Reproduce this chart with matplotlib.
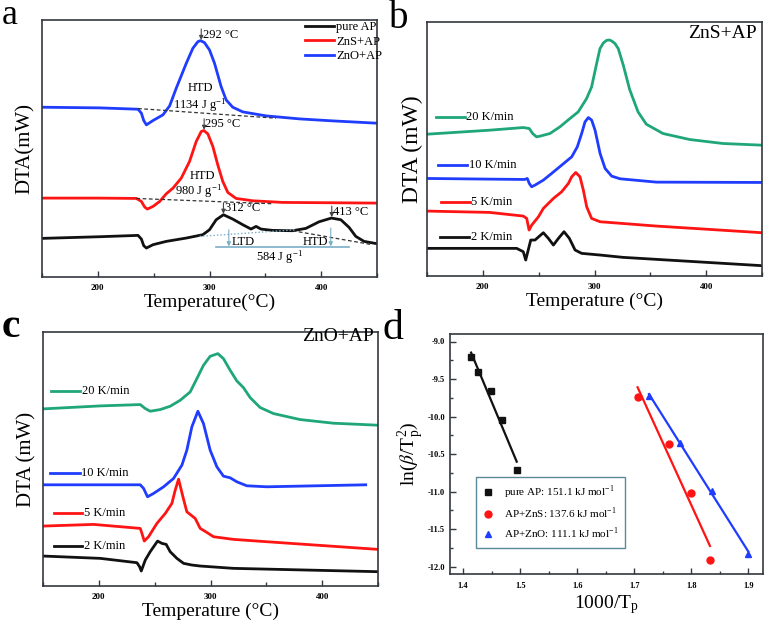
import numpy as np
import matplotlib
matplotlib.use('Agg')
import matplotlib.pyplot as plt
from matplotlib.ticker import MultipleLocator, FormatStrFormatter

plt.rcParams['font.family'] = ['Liberation Serif', 'DejaVu Serif']
plt.rcParams['mathtext.fontset'] = 'stix'

# ---------------- DATA ----------------
# Panel a (DTA, arbitrary units)
a_zno_T = [150, 201.8, 236.0, 239.0, 241.1, 243.5, 249.4, 258.3, 264.3, 270.2, 279.2, 285.1, 289.6, 292.0,
           295.5, 300.0, 304.5, 310.4, 314.9, 320.8, 329.8, 350.6, 380.4, 410.1, 450]
a_zno_y = [51.0, 50.8, 50.4, 49.2, 47.0, 45.7, 47.0, 48.7, 51.4, 56.7, 64.2, 68.7, 70.7, 71.0,
           70.4, 68.2, 64.2, 57.2, 53.2, 51.0, 49.6, 48.4, 47.5, 46.9, 46.2]
a_zns_T = [150, 201.8, 234.5, 239.0, 242.0, 244.3, 249.4, 255.4, 261.3, 267.3, 274.7, 282.1, 288.1, 292.6,
           294.9, 298.5, 303.0, 307.4, 311.9, 316.4, 323.8, 338.7, 365.5, 410.1, 450]
a_zns_y = [23.7, 23.7, 23.6, 22.7, 21.0, 20.4, 21.2, 22.7, 25.0, 26.7, 29.7, 34.7, 40.7, 43.7,
           44.0, 43.0, 39.2, 33.7, 28.7, 25.4, 23.6, 22.9, 22.4, 22.3, 22.2]
a_ap_T = [150, 201.8, 236.0, 239.0, 241.1, 243.5, 249.4, 261.3, 279.2, 294.0, 300.0, 306.0, 312.5, 320.8,
          329.8, 337.2, 341.7, 346.1, 356.5, 374.4, 386.3, 398.2, 409.2, 417.6, 425.0, 431.0, 438.4, 450]
a_ap_y = [11.6, 12.1, 12.5, 11.4, 9.4, 8.7, 9.7, 10.7, 11.7, 12.7, 14.2, 17.2, 18.7, 17.4,
          15.7, 14.4, 15.2, 14.4, 14.0, 13.9, 14.6, 16.6, 17.7, 17.2, 14.9, 12.2, 10.7, 10.0]
a_names = ['pure AP', 'ZnS+AP', 'ZnO+AP']
# integration baselines
a_zno_base_T, a_zno_base_y = [236.0, 359.5], [50.6, 47.7]
a_zns_base_T, a_zns_base_y = [234.5, 356.5], [23.6, 22.0]
a_htd_base_T, a_htd_base_y = [374.4, 445.8], [13.9, 9.7]
a_ltd_base_T, a_ltd_base_y = [291.1, 377.4], [12.2, 14.2]
a_sep_T, a_sep_y = [306.0, 425.0], [8.9, 8.9]
a_peak_T = [292.6, 295.2, 312.5, 409.5]
a_peak_lbl = ['292 °C', '295 °C', '312 °C', '413 °C']
a_enth = ['1134 J g$^{\\mathregular{-1}}$', '980 J g$^{\\mathregular{-1}}$', '584 J g$^{\\mathregular{-1}}$']

# Panel b (ZnS+AP)
b_rates = ['20 K/min', '10 K/min', '5 K/min', '2 K/min']
b20_T = [150, 206.1, 236.2, 241.6, 244.6, 248.1, 251.1, 260.1, 269.0, 278.0, 285.4, 292.9, 297.4, 301.9,
         304.9, 307.9, 310.9, 313.3, 315.4, 318.4, 321.3, 325.8, 331.5, 339.0, 346.4, 361.3, 385.2, 415.1, 450]
b20_y = [42.6, 43.8, 44.6, 44.3, 42.8, 41.8, 42.0, 42.8, 44.8, 47.3, 49.3, 53.3, 56.8, 63.8,
         68.3, 70.0, 70.8, 70.9, 70.6, 69.8, 68.3, 63.3, 56.0, 49.3, 45.6, 42.8, 41.0, 39.8, 39.3]
b10_T = [150, 206.1, 237.5, 239.8, 241.6, 243.7, 246.7, 254.2, 261.6, 270.6, 279.6, 284.6, 288.5, 291.5,
         294.5, 297.5, 300.5, 305.0, 309.5, 315.4, 322.9, 355.4, 450]
b10_y = [29.3, 29.1, 29.0, 29.3, 27.8, 26.8, 27.3, 28.8, 30.8, 33.3, 35.8, 38.8, 42.8, 46.3,
         47.6, 46.8, 43.8, 36.8, 32.3, 30.0, 29.2, 28.2, 28.1]
b5_T = [150, 206.1, 236.2, 239.3, 241.4, 243.8, 249.8, 254.2, 257.2, 263.2, 270.6, 276.6, 279.6, 283.2,
        287.0, 290.0, 293.0, 297.4, 304.9, 355.4, 450]
b5_y = [19.5, 19.1, 18.0, 17.3, 13.8, 15.3, 17.8, 20.3, 21.3, 23.3, 25.3, 27.8, 29.8, 31.1,
        29.8, 25.8, 20.8, 17.3, 16.3, 15.0, 13.0]
b2_T = [150, 215.1, 230.3, 236.2, 238.4, 242.9, 246.7, 254.2, 258.7, 263.2, 267.7, 272.7, 277.5, 282.6,
        288.5, 304.9, 325.5, 450]
b2_y = [8.3, 8.3, 8.3, 7.3, 4.8, 10.8, 10.8, 13.0, 11.3, 9.3, 11.3, 13.3, 11.3, 7.8,
        6.8, 6.3, 5.6, 3.1]

# Panel c (ZnO+AP)
c20_T = [150, 201.3, 237.1, 241.6, 246.0, 255.0, 263.9, 272.9, 281.8, 287.8, 293.7, 299.7, 306.6, 311.6,
         317.6, 323.6, 329.5, 335.5, 344.5, 356.4, 380.2, 410.1, 450]
c20_y = [53.2, 54.1, 54.5, 53.3, 52.5, 53.0, 54.0, 55.8, 58.3, 62.3, 66.3, 69.0, 69.8, 68.3,
         64.8, 61.6, 59.6, 56.6, 53.6, 51.8, 50.0, 48.9, 48.3]
c10_T = [150, 237.1, 240.1, 243.6, 249.0, 258.0, 266.9, 274.4, 278.8, 283.3, 288.7, 293.7, 299.7, 305.7,
         311.6, 317.6, 323.6, 332.5, 350.4, 439.0]
c10_y = [30.4, 30.4, 29.3, 26.8, 27.8, 29.8, 32.3, 36.3, 40.8, 47.8, 52.5, 48.8, 40.8, 35.8,
         33.0, 32.5, 31.3, 30.1, 29.8, 30.4]
c5_T = [150, 195.3, 237.1, 238.6, 240.7, 244.5, 252.0, 259.5, 265.4, 268.4, 271.4, 275.3, 278.8, 286.3,
        290.8, 296.7, 302.7, 320.6, 350.4, 450]
c5_y = [18.0, 18.5, 17.3, 15.8, 13.5, 14.8, 18.8, 21.8, 24.8, 28.8, 32.1, 26.8, 22.3, 20.3,
        17.3, 16.1, 14.8, 14.0, 13.3, 11.0]
c2_T = [150, 201.3, 234.1, 236.5, 238.0, 241.6, 246.0, 252.6, 256.5, 260.3, 263.9, 269.9, 275.9, 283.3,
        290.8, 320.6, 450]
c2_y = [9.0, 8.3, 7.0, 5.8, 4.5, 7.8, 10.3, 13.5, 12.8, 12.5, 10.3, 8.3, 6.8, 6.3,
        6.0, 5.3, 4.3]

# Panel d (Kissinger plot)
d_ap_x = [1.414, 1.426, 1.449, 1.468, 1.494]
d_ap_y = [-9.21, -9.41, -9.66, -10.04, -10.71]
d_zns_x = [1.706, 1.761, 1.800, 1.833]
d_zns_y = [-9.74, -10.37, -11.02, -11.91]
d_zno_x = [1.726, 1.780, 1.837, 1.900]
d_zno_y = [-9.72, -10.35, -10.99, -11.83]
d_labels = ['pure AP: 151.1 kJ mol$^{\\mathregular{-1}}$',
            'AP+ZnS: 137.6 kJ mol$^{\\mathregular{-1}}$',
            'AP+ZnO: 111.1 kJ mol$^{\\mathregular{-1}}$']

# ---------------- STYLE ----------------
BLACK = '#111111'
RED = '#ff1414'
BLUE = '#1f3cff'
GREEN = '#1fa67a'
LBLUE = '#7aaec8'
SPINE = '#333840'
LW = 2.0

fig = plt.figure(figsize=(7.65, 6.24), dpi=100)
W, H = 765, 624


def add_ax(l, t, r, b):
    return fig.add_axes([l / W, 1 - b / H, (r - l) / W, (b - t) / H])


def style_dta(ax, ytop):
    ax.set_xlim(150, 450)
    ax.set_ylim(0, ytop)
    ax.set_yticks([])
    ax.xaxis.set_major_locator(MultipleLocator(100))
    ax.xaxis.set_minor_locator(MultipleLocator(50))
    ax.tick_params(axis='x', which='both', direction='in', top=False, colors=SPINE,
                   labelsize=6.5, labelcolor='black', pad=5)
    ax.tick_params(axis='x', which='major', length=4.5, width=1)
    ax.tick_params(axis='x', which='minor', length=3, width=1)
    for lab in ax.get_xticklabels():
        lab.set_fontweight('bold')
    for s in ax.spines.values():
        s.set_color(SPINE)
        s.set_linewidth(1.2)


# ----- Panel a -----
axa = add_ax(42, 20, 377, 277)
la, = axa.plot(a_ap_T, a_ap_y, color=BLACK, lw=LW, label=a_names[0])
lb, = axa.plot(a_zns_T, a_zns_y, color=RED, lw=LW, label=a_names[1])
lc, = axa.plot(a_zno_T, a_zno_y, color=BLUE, lw=LW, label=a_names[2])
style_dta(axa, 77.2)
dash = dict(color='#333333', lw=0.9, ls=(0, (3, 2)))
axa.plot(a_zno_base_T, a_zno_base_y, **dash)
axa.plot(a_zns_base_T, a_zns_base_y, **dash)
axa.plot(a_htd_base_T, a_htd_base_y, **dash)
axa.plot(a_ltd_base_T, a_ltd_base_y, color=LBLUE, lw=1.0, ls=(0, (1, 1.5)))
axa.plot(a_sep_T, a_sep_y, color=LBLUE, lw=1.2)

curves = [(a_zno_T, a_zno_y), (a_zns_T, a_zns_y), (a_ap_T, a_ap_y), (a_ap_T, a_ap_y)]
for (T, y), pT, lbl in zip(curves, a_peak_T, a_peak_lbl):
    yc = np.interp(pT, T, y)
    axa.annotate('', xy=(pT, yc + 0.3), xytext=(pT, yc + 3.6),
                 arrowprops=dict(arrowstyle='-|>', lw=0.8, color='#444444', mutation_scale=6,
                                 shrinkA=0, shrinkB=0))
    axa.text(pT + 1.2, yc + 1.9, lbl, fontsize=9, va='center', ha='left')

axa.text(291.7, 56.7, 'HTD', fontsize=9, ha='center', va='center')
axa.text(291.1, 51.3, a_enth[0], fontsize=9, ha='center', va='center')
axa.text(293.5, 30.2, 'HTD', fontsize=9, ha='center', va='center')
axa.text(290.5, 25.6, a_enth[1], fontsize=9, ha='center', va='center')
axa.text(362.5, 5.6, a_enth[2], fontsize=9, ha='center', va='center')
for xT, y0 in [(317.3, 14.2), (408.6, 14.7)]:
    axa.annotate('', xy=(xT, 9.2), xytext=(xT, y0),
                 arrowprops=dict(arrowstyle='-|>', lw=0.8, color=LBLUE, mutation_scale=6,
                                 shrinkA=0, shrinkB=0))
axa.text(320.2, 10.4, 'LTD', fontsize=9, ha='left', va='center')
axa.text(406.5, 10.4, 'HTD', fontsize=9, ha='right', va='center')
axa.legend(handles=[la, lb, lc], loc='upper left', bbox_to_anchor=(0.785, 0.995), frameon=False,
           fontsize=9, handlelength=2.3, handletextpad=0.2, labelspacing=0.2, borderpad=0,
           borderaxespad=0)
axa.set_ylabel('DTA(mW)', fontsize=15, labelpad=5)
axa.set_xlabel('Temperature(°C)', fontsize=14, labelpad=1)

# ----- Panel b -----
axb = add_ax(427, 22, 762, 276)
for T, y, c in [(b20_T, b20_y, GREEN), (b10_T, b10_y, BLUE), (b5_T, b5_y, RED), (b2_T, b2_y, BLACK)]:
    axb.plot(T, y, color=c, lw=LW)
style_dta(axb, 76.3)
b_lab_pos = [(158.4, 183.7, 47.8), (159.9, 185.8, 33.2), (162.8, 188.2, 22.1), (161.9, 187.6, 11.7)]
for (x0, x1, yy), c, lbl in zip(b_lab_pos, [GREEN, BLUE, RED, BLACK], b_rates):
    axb.plot([x0, x1], [yy, yy], color=c, lw=LW)
    axb.text(x1 + 1.5, yy, lbl, fontsize=9, va='center', ha='left')
axb.text(445, 72.8, 'ZnS+AP', fontsize=14, ha='right', va='center')
axb.set_ylabel('DTA (mW)', fontsize=17, labelpad=3)
axb.set_xlabel('Temperature (°C)', fontsize=14, labelpad=1)

# ----- Panel c -----
axc = add_ax(43, 332, 378, 586)
for T, y, c in [(c20_T, c20_y, GREEN), (c10_T, c10_y, BLUE), (c5_T, c5_y, RED), (c2_T, c2_y, BLACK)]:
    axc.plot(T, y, color=c, lw=LW)
style_dta(axc, 76.3)
c_lab_pos = [(157.2, 183.4, 58.6), (156.6, 182.8, 33.8), (160.1, 184.9, 21.8), (159.5, 184.9, 12.1)]
for (x0, x1, yy), c, lbl in zip(c_lab_pos, [GREEN, BLUE, RED, BLACK], b_rates):
    axc.plot([x0, x1], [yy, yy], color=c, lw=LW)
    axc.text(x1 + 1.5, yy, lbl, fontsize=9, va='center', ha='left')
axc.text(446.5, 74.8, 'ZnO+AP', fontsize=14, ha='right', va='center')
axc.set_ylabel('DTA (mW)', fontsize=15, labelpad=5)
axc.set_xlabel('Temperature (°C)', fontsize=14, labelpad=1)

# ----- Panel d -----
axd = add_ax(450, 334, 763, 574)
handles = []
for x, y, c, m, lbl in [(d_ap_x, d_ap_y, BLACK, 's', d_labels[0]),
                        (d_zns_x, d_zns_y, RED, 'o', d_labels[1]),
                        (d_zno_x, d_zno_y, BLUE, '^', d_labels[2])]:
    x = np.asarray(x); y = np.asarray(y)
    k, b0 = np.polyfit(x, y, 1)
    xx = np.array([x.min(), x.max()])
    axd.plot(xx, k * xx + b0, color=c, lw=1.6)
    h, = axd.plot(x, y, ls='none', marker=m, color=c, ms=5, label=lbl)
    handles.append(h)
axd.set_xlim(1.377, 1.926)
axd.set_ylim(-12.1, -8.9)
axd.xaxis.set_major_locator(MultipleLocator(0.1))
axd.xaxis.set_minor_locator(MultipleLocator(0.05))
axd.yaxis.set_major_locator(MultipleLocator(0.5))
axd.yaxis.set_minor_locator(MultipleLocator(0.25))
axd.xaxis.set_major_formatter(FormatStrFormatter('%.1f'))
axd.yaxis.set_major_formatter(FormatStrFormatter('%.1f'))
axd.tick_params(which='both', direction='in', top=False, right=False, colors=SPINE,
                labelsize=6, labelcolor='black')
axd.tick_params(which='major', length=4, width=1)
axd.tick_params(which='minor', length=2.5, width=1)
axd.tick_params(axis='x', pad=6)
for lab in axd.get_xticklabels() + axd.get_yticklabels():
    lab.set_fontweight('bold')
for s in axd.spines.values():
    s.set_color(SPINE)
    s.set_linewidth(1.2)
leg = axd.legend(handles=handles, loc='lower left', bbox_to_anchor=(0.083, 0.108), borderaxespad=0,
                 fontsize=8, handlelength=1.0, handletextpad=0.9, labelspacing=0.45,
                 borderpad=0.6, fancybox=False, framealpha=1)
leg.get_frame().set_edgecolor('#5a8a98')
leg.get_frame().set_linewidth(1.0)
axd.set_ylabel('ln($\\beta$/T$_{\\mathregular{p}}^{\\mathregular{2}}$)', fontsize=14, labelpad=1)
axd.set_xlabel('1000/T$_{\\mathregular{p}}$', fontsize=14, labelpad=2)

# ----- Panel letters -----
fig.text(2 / W, 1 - 24 / H, 'a', fontsize=26, va='baseline', ha='left')
fig.text(389 / W, 1 - 28 / H, 'b', fontsize=28, va='baseline', ha='left')
fig.text(2 / W, 1 - 337 / H, 'c', fontsize=30, va='baseline', ha='left', fontweight='bold')
fig.text(383 / W, 1 - 339 / H, 'd', fontsize=30, va='baseline', ha='left')

fig.savefig('out.png', dpi=100)
